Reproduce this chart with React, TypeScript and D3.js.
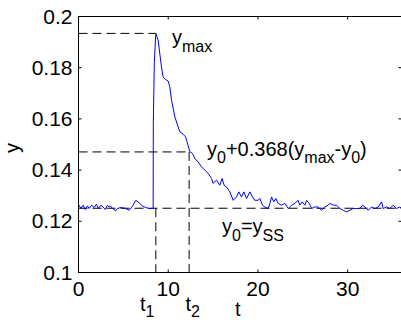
import React from "react";
import * as d3 from "d3";

const tValues = [
  0.07, 0.26, 0.52, 0.74, 1.0, 1.18, 1.48, 1.74, 2.0, 2.23, 2.49, 2.74, 2.97, 3.23, 3.41, 3.6, 3.79, 4.16, 4.35, 4.72,
  5.27, 5.64, 6.02, 6.39, 6.76, 7.13, 7.5, 7.87, 8.32, 8.34, 8.45, 8.62, 8.88, 9.06, 9.25, 9.43, 9.7, 9.99, 10.18,
  10.37, 10.74, 11.1, 11.31, 11.66, 11.93, 12.04, 12.41, 12.71, 12.97, 13.33, 13.71, 14.08, 14.45, 14.83, 15.0,
  15.38, 15.75, 16.01, 16.23, 16.5, 16.87, 17.24, 17.61, 17.87, 18.17, 18.43, 18.73, 19.1, 19.4, 19.65, 20.02,
  20.21, 20.51, 20.77, 21.14, 21.33, 21.52, 21.77, 22.0, 22.25, 22.63, 23.0, 23.37, 23.75, 24.11, 24.48, 24.67,
  24.93, 25.23, 25.42, 25.71, 25.98, 26.34, 26.71, 27.09, 27.46, 27.83, 28.02, 28.39, 28.76, 29.13, 29.5, 29.88,
  30.25, 30.62, 30.99, 31.36, 31.66, 31.92, 32.29, 32.66, 33.03, 33.4, 33.78, 33.96, 34.34, 34.71, 35.07, 35.45,
  35.82, 36.0,
];
const yValues = [
  0.1263, 0.125, 0.1263, 0.1246, 0.126, 0.125, 0.1263, 0.1254, 0.1267, 0.125, 0.1263, 0.1256, 0.1246, 0.1263,
  0.1256, 0.1259, 0.125, 0.1241, 0.125, 0.1254, 0.125, 0.1243, 0.1259, 0.1282, 0.1272, 0.1259, 0.1254, 0.125,
  0.125, 0.1587, 0.1821, 0.1934, 0.1907, 0.1855, 0.1803, 0.1764, 0.1754, 0.1748, 0.1725, 0.1673, 0.1608, 0.1569,
  0.1549, 0.154, 0.153, 0.1517, 0.1472, 0.1465, 0.1445, 0.1432, 0.1413, 0.14, 0.1387, 0.1367, 0.1348, 0.1361,
  0.1341, 0.1367, 0.1341, 0.1334, 0.1315, 0.1282, 0.1295, 0.1315, 0.1295, 0.1315, 0.1289, 0.1315, 0.1295, 0.1282,
  0.1282, 0.1289, 0.1263, 0.1256, 0.125, 0.127, 0.1295, 0.1276, 0.1289, 0.127, 0.1263, 0.127, 0.125, 0.1263,
  0.127, 0.1282, 0.1263, 0.1276, 0.1263, 0.1282, 0.127, 0.125, 0.1256, 0.1256, 0.1243, 0.1256, 0.1263, 0.127,
  0.1263, 0.1263, 0.125, 0.1243, 0.1237, 0.1243, 0.125, 0.125, 0.125, 0.1263, 0.1256, 0.1243, 0.1256, 0.125,
  0.1256, 0.1276, 0.125, 0.1256, 0.125, 0.1263, 0.125, 0.1256, 0.125,
];

const xTicks = [0, 10, 20, 30];
const yTicks = [0.1, 0.12, 0.14, 0.16, 0.18, 0.2];
const yTickLabels = ["0.1", "0.12", "0.14", "0.16", "0.18", "0.2"];

const Y_MAX = 0.1934;
const Y_368 = 0.1471;
const Y_0 = 0.1251;
const T_1 = 8.62;
const T_2 = 12.33;

const W = 401;
const H = 320;
const FONT = "'Liberation Sans', Arial, Helvetica, sans-serif";

export default function App() {
  const x = d3.scaleLinear().domain([0, 36]).range([78.5, 401.5]);
  const y = d3.scaleLinear().domain([0.1, 0.2]).range([272.5, 16.5]);
  const pts: [number, number][] = tValues.map((t, i) => [t, yValues[i]]);
  const line = d3
    .line<[number, number]>()
    .x((d) => x(d[0]))
    .y((d) => y(d[1]));

  const [x0, x1] = x.range();
  const [yb, yt] = y.range();
  const tick = 3;
  const dash = "9,5";

  return (
    <svg
      width={W}
      height={H}
      style={{ position: "absolute", left: 0, top: 0, background: "#fff" }}
      fontFamily={FONT}
    >
      <rect x={0} y={0} width={W} height={H} fill="#fff" />
      {/* axes box */}
      <rect x={x0} y={yt} width={x1 - x0} height={yb - yt} fill="none" stroke="#000" strokeWidth={1} />
      {xTicks.map((t) => (
        <g key={"xt" + t}>
          <line x1={x(t)} x2={x(t)} y1={yb} y2={yb - tick} stroke="#000" />
          <line x1={x(t)} x2={x(t)} y1={yt} y2={yt + tick} stroke="#000" />
          <text x={x(t)} y={296} textAnchor="middle" fontSize={21}>
            {t}
          </text>
        </g>
      ))}
      {yTicks.map((v, i) => (
        <g key={"yt" + v}>
          <line x1={x0} x2={x0 + tick} y1={y(v)} y2={y(v)} stroke="#000" />
          <line x1={x1} x2={x1 - tick} y1={y(v)} y2={y(v)} stroke="#000" />
          <text x={72.5} y={y(v) + 7} textAnchor="end" fontSize={21}>
            {yTickLabels[i]}
          </text>
        </g>
      ))}

      {/* reference dashed lines */}
      <line x1={x0} x2={x(T_1)} y1={y(Y_MAX)} y2={y(Y_MAX)} stroke="#000" strokeDasharray={dash} />
      <line x1={x0} x2={x(T_2)} y1={y(Y_368)} y2={y(Y_368)} stroke="#000" strokeDasharray={dash} />
      <line x1={x0} x2={x1} y1={y(Y_0)} y2={y(Y_0)} stroke="#000" strokeDasharray={dash} />
      <line x1={x(T_1)} x2={x(T_1)} y1={y(Y_0)} y2={yb} stroke="#000" strokeDasharray={dash} />
      <line x1={x(T_2)} x2={x(T_2)} y1={y(Y_368)} y2={yb} stroke="#000" strokeDasharray={dash} />

      {/* data */}
      <path d={line(pts) || ""} fill="none" stroke="#0000ff" strokeWidth={1} />

      {/* annotations */}
      <text x={172} y={44} fontSize={20}>
        y<tspan dy={8} fontSize={16}>max</tspan>
      </text>
      <text x={207} y={156} fontSize={20}>
        y<tspan dy={7} fontSize={16}>0</tspan>
        <tspan dy={-7}>+0.368(y</tspan>
        <tspan dy={7} fontSize={16}>max</tspan>
        <tspan dy={-7}>-y</tspan>
        <tspan dy={7} fontSize={16}>0</tspan>
        <tspan dy={-7}>)</tspan>
      </text>
      <text x={222} y={233} fontSize={20}>
        y<tspan dy={8} fontSize={16}>0</tspan>
        <tspan dy={-8}>=y</tspan>
        <tspan dy={8} fontSize={16}>SS</tspan>
      </text>
      <text x={140} y={311} fontSize={20}>
        t<tspan dy={6} fontSize={16}>1</tspan>
      </text>
      <text x={185.5} y={311} fontSize={20}>
        t<tspan dy={6} fontSize={16}>2</tspan>
      </text>
      <text x={235} y={316} fontSize={20}>
        t
      </text>
      <text transform="translate(19,148) rotate(-90)" textAnchor="middle" fontSize={20}>
        y
      </text>
    </svg>
  );
}
